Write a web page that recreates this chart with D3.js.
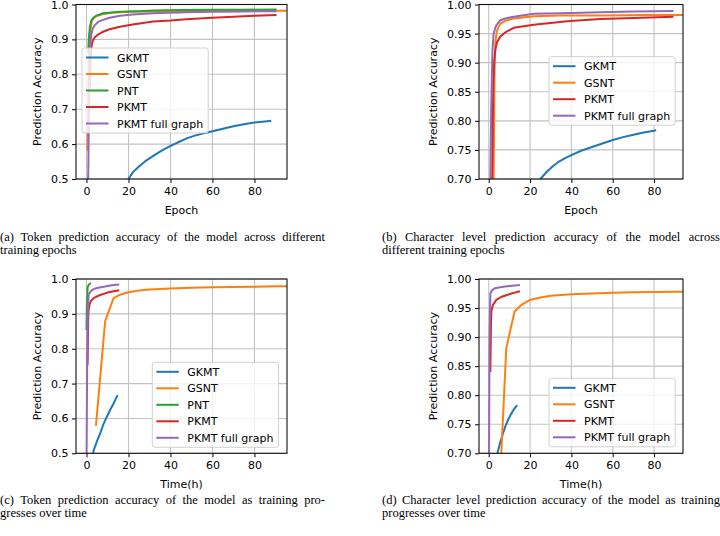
<!DOCTYPE html>
<html>
<head>
<meta charset="utf-8">
<script src="https://cdn.jsdelivr.net/npm/d3@7"></script>
<style>
html,body{margin:0;padding:0;background:#fff;}
svg{display:block;}
</style>
</head>
<body>
<svg id="chart" width="720" height="536"></svg>
<script>
// ---------- data ----------
const seriesNames = ["GKMT", "GSNT", "PNT", "PKMT", "PKMT full graph"];
const seriesColors = ["#1f77b4", "#ff7f0e", "#2ca02c", "#d62728", "#9467bd"];
const xTicks = [0, 20, 40, 60, 80];
const yTicksToken = [0.5, 0.6, 0.7, 0.8, 0.9, 1.0];
const yTicksChar = [0.70, 0.75, 0.80, 0.85, 0.90, 0.95, 1.00];

// (a) token accuracy vs epoch
const gkmtTokenEpoch = [[19.5,0.49],[20,0.50],[22,0.519],[25,0.536],[28,0.551],[32,0.567],[36,0.582],[40,0.595],[44,0.606],[48,0.617],[52,0.625],[56,0.631],[60,0.637],[65,0.644],[70,0.651],[75,0.657],[80,0.662],[85,0.665],[88,0.667]];
const gsntTokenEpoch = [[0.5,0.58],[0.8,0.70],[1.2,0.86],[1.8,0.925],[2.5,0.952],[3.5,0.962],[5,0.968],[8,0.973],[12,0.976],[20,0.979],[30,0.980],[45,0.981],[60,0.982],[75,0.982],[90,0.982],[100,0.982]];
const pntTokenEpoch = [[0.8,0.86],[1.1,0.90],[1.6,0.935],[2.4,0.956],[3.5,0.963],[4.8,0.968],[7.9,0.975],[12,0.977],[15.9,0.979],[25,0.981],[31.7,0.983],[45,0.984],[60,0.985],[75,0.985],[90.5,0.986]];
const pkmtTokenEpoch = [[1.5,0.75],[2,0.85],[2.5,0.885],[3.1,0.898],[4,0.906],[5.5,0.914],[7.9,0.922],[11,0.929],[15.9,0.936],[22,0.943],[31.7,0.951],[40,0.954],[47.6,0.958],[60,0.962],[70,0.965],[80,0.968],[90.5,0.970]];
const pkmtFullTokenEpoch = [[0.7,0.45],[1,0.60],[1.5,0.85],[2,0.90],[2.4,0.917],[3,0.932],[4,0.941],[5.5,0.950],[7.9,0.956],[11,0.962],[15.9,0.968],[22,0.971],[31.7,0.975],[47.6,0.978],[60,0.979],[75,0.980],[90.5,0.981]];

// (b) character accuracy vs epoch
const gkmtCharEpoch = [[24,0.695],[25,0.70],[28,0.712],[31,0.722],[34,0.730],[37,0.736],[40,0.741],[45,0.749],[50,0.755],[55,0.761],[60,0.767],[65,0.772],[70,0.776],[75,0.780],[80,0.783],[81,0.784]];
const gsntCharEpoch = [[2.2,0.60],[2.5,0.75],[2.8,0.88],[3.2,0.935],[4,0.955],[5.6,0.967],[8,0.972],[12,0.976],[21.7,0.980],[35,0.981],[55,0.981],[75,0.982],[100,0.982]];
const pkmtCharEpoch = [[1.5,0.60],[1.8,0.75],[2.2,0.86],[2.7,0.905],[3.2,0.922],[4,0.935],[5.6,0.945],[8,0.952],[12.1,0.960],[21.7,0.965],[30,0.968],[37.9,0.971],[54,0.975],[70,0.977],[89.4,0.979]];
const pkmtFullCharEpoch = [[0.6,0.60],[0.8,0.70],[1.2,0.82],[1.8,0.92],[2.4,0.950],[3.2,0.960],[4,0.966],[5.6,0.973],[8,0.976],[12.1,0.979],[21.7,0.984],[35,0.985],[54,0.9866],[70,0.988],[89.4,0.989]];

// (c) token accuracy vs time (h)
const gkmtTokenTime = [[2.8,0.49],[3.5,0.51],[5,0.535],[6.5,0.557],[8,0.582],[9.7,0.605],[11.3,0.625],[12.9,0.643],[14,0.657],[14.8,0.667]];
const gsntTokenTime = [[4.5,0.579],[8.9,0.880],[12.9,0.945],[16,0.955],[20,0.962],[25,0.967],[30,0.970],[40,0.973],[50,0.975],[60,0.976],[70,0.977],[80,0.978],[90,0.979],[100,0.980]];
const pntTokenTime = [[0,0.854],[0.2,0.93],[0.5,0.975],[1,0.983],[1.5,0.986],[2.1,0.988]];
const pkmtTokenTime = [[0.5,0.753],[0.8,0.88],[1,0.911],[1.5,0.928],[2.2,0.938],[3.4,0.945],[5,0.950],[6.5,0.954],[8.5,0.958],[10.5,0.962],[13,0.965],[15.6,0.968]];
const pkmtFullTokenTime = [[0,0.45],[0.3,0.75],[0.6,0.90],[1,0.955],[2,0.965],[3.4,0.971],[5,0.974],[8.2,0.978],[12,0.982],[15.6,0.984]];

// (d) character accuracy vs time (h)
const gkmtCharTime = [[4,0.695],[4.2,0.70],[5.5,0.718],[6.9,0.734],[8,0.746],[9.3,0.757],[10.7,0.767],[12.2,0.776],[13.8,0.783]];
const gsntCharTime = [[4.5,0.58],[8.5,0.881],[12.5,0.944],[16,0.956],[20,0.964],[25,0.968],[30,0.971],[40,0.9737],[50,0.975],[60,0.9764],[70,0.977],[80,0.9775],[90,0.978],[100,0.978]];
const pkmtCharTime = [[0.8,0.840],[1.1,0.925],[1.3,0.945],[2,0.955],[3.7,0.964],[6,0.969],[8.5,0.972],[11,0.975],[13,0.977],[15.1,0.979]];
const pkmtFullCharTime = [[0.1,0.65],[0.4,0.90],[0.8,0.975],[1.5,0.980],[2.9,0.984],[5,0.9855],[7,0.9865],[10,0.988],[15.1,0.9897]];

const captions = [
  ["(a) Token prediction accuracy of the model across different", "training epochs"],
  ["(b) Character level prediction accuracy of the model across", "different training epochs"],
  ["(c) Token prediction accuracy of the model as training pro-", "gresses over time"],
  ["(d) Character level prediction accuracy of the model as training", "progresses over time"]
];

// ---------- layout ----------
const panels = [
  { box:[76,4.5,287,179], xDom:[-5,95.5], yDom:[0.5,1.0], yTicks:yTicksToken, yFmt:".1f", xLabel:"Epoch",
    series:[gkmtTokenEpoch,gsntTokenEpoch,pntTokenEpoch,pkmtTokenEpoch,pkmtFullTokenEpoch], idx:[0,1,2,3,4],
    legend:{x:82,y:48}, cap:{x0:0,x1:325,y:241} },
  { box:[479,4.5,683,179], xDom:[-4.7,94], yDom:[0.70,1.00], yTicks:yTicksChar, yFmt:".2f", xLabel:"Epoch",
    series:[gkmtCharEpoch,gsntCharEpoch,pkmtCharEpoch,pkmtFullCharEpoch], idx:[0,1,3,4],
    legend:{x:549,y:56.7}, cap:{x0:382,x1:720,y:241} },
  { box:[76,279,287,453.3], xDom:[-5,95.5], yDom:[0.5,1.0], yTicks:yTicksToken, yFmt:".1f", xLabel:"Time(h)",
    series:[gkmtTokenTime,gsntTokenTime,pntTokenTime,pkmtTokenTime,pkmtFullTokenTime], idx:[0,1,2,3,4],
    legend:{x:152.3,y:362.3}, cap:{x0:0,x1:325,y:504} },
  { box:[479,279,683,453.3], xDom:[-4.7,94], yDom:[0.70,1.00], yTicks:yTicksChar, yFmt:".2f", xLabel:"Time(h)",
    series:[gkmtCharTime,gsntCharTime,pkmtCharTime,pkmtFullCharTime], idx:[0,1,3,4],
    legend:{x:549,y:378.3}, cap:{x0:382,x1:720,y:504} }
];

const svg = d3.select("#chart");
const FONT = "DejaVu Sans";
const FS = 11;
const LW = 2;

panels.forEach((p, pi) => {
  const [L, T, R, B] = p.box;
  const x = d3.scaleLinear().domain(p.xDom).range([L, R]);
  const y = d3.scaleLinear().domain(p.yDom).range([B, T]);
  const g = svg.append("g");

  const clipId = "clip" + pi;
  svg.append("clipPath").attr("id", clipId)
    .append("rect").attr("x", L).attr("y", T).attr("width", R - L).attr("height", B - T);

  // grid
  g.append("g").selectAll("line").data(xTicks).join("line")
    .attr("x1", d => x(d)).attr("x2", d => x(d)).attr("y1", T).attr("y2", B)
    .attr("stroke", "#c2c2c2").attr("stroke-width", 1.1);
  g.append("g").selectAll("line").data(p.yTicks).join("line")
    .attr("x1", L).attr("x2", R).attr("y1", d => y(d)).attr("y2", d => y(d))
    .attr("stroke", "#c2c2c2").attr("stroke-width", 1.1);

  // lines
  const line = d3.line().x(d => x(d[0])).y(d => y(d[1]));
  const lg = g.append("g").attr("clip-path", `url(#${clipId})`);
  p.series.forEach((s, si) => {
    lg.append("path").attr("d", line(s)).attr("fill", "none")
      .attr("stroke", seriesColors[p.idx[si]]).attr("stroke-width", LW)
      .attr("stroke-linejoin", "round").attr("stroke-linecap", "butt");
  });

  // axes
  const xAxis = d3.axisBottom(x).tickValues(xTicks).tickSize(4).tickPadding(4).tickFormat(d3.format("d"));
  const yAxis = d3.axisLeft(y).tickValues(p.yTicks).tickSize(4).tickPadding(3.5).tickFormat(d3.format(p.yFmt));
  const xa = g.append("g").attr("transform", `translate(0,${B})`).call(xAxis);
  const ya = g.append("g").attr("transform", `translate(${L},0)`).call(yAxis);
  [xa, ya].forEach(a => {
    a.select(".domain").remove();
    a.selectAll("line").attr("stroke", "#000").attr("stroke-width", 1);
    a.selectAll("text").attr("font-family", FONT).attr("font-size", FS).attr("fill", "#000");
  });

  // frame
  g.append("rect").attr("x", L).attr("y", T).attr("width", R - L).attr("height", B - T)
    .attr("fill", "none").attr("stroke", "#111").attr("stroke-width", 1.1);

  // axis labels
  g.append("text").attr("x", (L + R) / 2).attr("y", B + 35).attr("text-anchor", "middle")
    .attr("font-family", FONT).attr("font-size", FS).text(p.xLabel);
  const ylx = L - (pi % 2 === 0 ? 35 : 42);
  g.append("text").attr("transform", `translate(${ylx},${(T + B) / 2}) rotate(-90)`)
    .attr("text-anchor", "middle").attr("font-family", FONT).attr("font-size", FS)
    .text("Prediction Accuracy");

  // legend
  const leg = g.append("g");
  const names = p.idx.map(i => seriesNames[i]);
  const box = leg.append("rect");
  let maxW = 0;
  const step = 16.5;
  names.forEach((n, i) => {
    const cy = p.legend.y + 9.5 + i * step;
    leg.append("line").attr("x1", p.legend.x + 4).attr("x2", p.legend.x + 26.5)
      .attr("y1", cy).attr("y2", cy).attr("stroke", seriesColors[p.idx[i]]).attr("stroke-width", LW);
    const t = leg.append("text").attr("x", p.legend.x + 35).attr("y", cy + 4)
      .attr("font-family", FONT).attr("font-size", FS).text(n);
    maxW = Math.max(maxW, t.node().getComputedTextLength());
  });
  box.attr("x", p.legend.x).attr("y", p.legend.y)
    .attr("width", 35 + maxW + 5).attr("height", names.length * step + 2.5)
    .attr("rx", 2.5).attr("fill", "#fff").attr("fill-opacity", 0.8)
    .attr("stroke", "#cccccc").attr("stroke-width", 0.9);

  // caption (first line justified)
  const cg = svg.append("g").attr("font-family", "Liberation Serif").attr("font-size", 12.5).attr("fill", "#000");
  const words = captions[pi][0].split(" ");
  const wEls = words.map(w => cg.append("text").attr("y", p.cap.y).text(w));
  const widths = wEls.map(e => e.node().getComputedTextLength());
  const total = d3.sum(widths);
  const gap = (p.cap.x1 - p.cap.x0 - total) / (words.length - 1);
  let cx = p.cap.x0;
  wEls.forEach((e, i) => { e.attr("x", cx); cx += widths[i] + gap; });
  cg.append("text").attr("x", p.cap.x0).attr("y", p.cap.y + 13).text(captions[pi][1]);
});
</script>
</body>
</html>
